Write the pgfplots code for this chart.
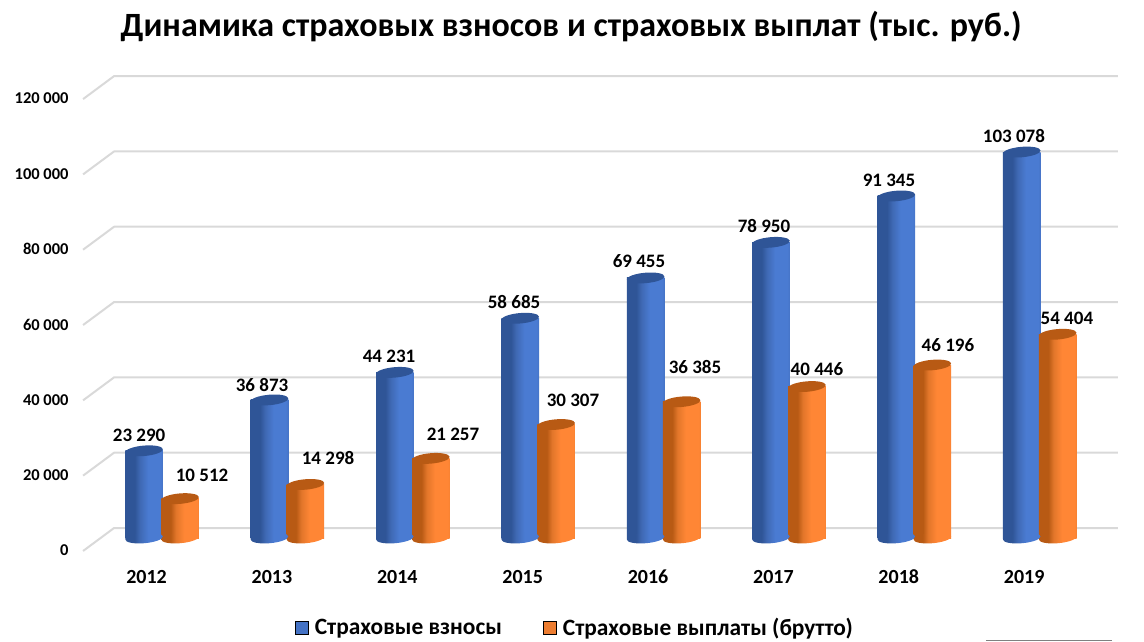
\documentclass[border=0pt]{standalone}
\usepackage{fontspec}
\setmainfont{Carlito}
\usepackage{pgfplots}
\usepackage{pgfplotstable}
\pgfplotsset{compat=1.18}
\definecolor{gridc}{HTML}{D9D9D9}
\definecolor{bl}{HTML}{4472C4}
\definecolor{or}{HTML}{ED7D31}
\definecolor{HTML2F5597}{HTML}{2F5597}
\definecolor{HTML3F69B4}{HTML}{3F69B4}
\definecolor{HTML4A7BD2}{HTML}{4A7BD2}
\definecolor{HTML4472C4}{HTML}{4472C4}
\definecolor{HTML264478}{HTML}{264478}
\pgfdeclarehorizontalshading{blueCyl}{100bp}{color(0bp)=(HTML2F5597);color(25bp)=(HTML2F5597);color(32bp)=(HTML3F69B4);color(43bp)=(HTML4A7BD2);color(59bp)=(HTML4A7BD2);color(68bp)=(HTML3F69B4);color(75bp)=(HTML264478)}
\pgfdeclareplotmark{blueEll}{\pgfpathellipse{\pgfpointorigin}{\pgfqpoint{18.8pt}{1.6pt}}{\pgfqpoint{-0.4pt}{5.2pt}}\pgfshadepath{blueCyl}{0}\pgfusepath{discard}}
\definecolor{HTMLB85A14}{HTML}{B85A14}
\definecolor{HTMLE2762A}{HTML}{E2762A}
\definecolor{HTMLFF8635}{HTML}{FF8635}
\definecolor{HTMLED7D31}{HTML}{ED7D31}
\definecolor{HTML9C4A10}{HTML}{9C4A10}
\pgfdeclarehorizontalshading{orangeCyl}{100bp}{color(0bp)=(HTMLB85A14);color(25bp)=(HTMLB85A14);color(32bp)=(HTMLE2762A);color(43bp)=(HTMLFF8635);color(60bp)=(HTMLFF8635);color(68bp)=(HTMLE2762A);color(75bp)=(HTML9C4A10)}
\pgfdeclareplotmark{orangeEll}{\pgfpathellipse{\pgfpointorigin}{\pgfqpoint{18.8pt}{1.6pt}}{\pgfqpoint{-0.4pt}{5.2pt}}\pgfshadepath{orangeCyl}{0}\pgfusepath{discard}}
\pgfdeclareplotmark{blueTop}{\pgfpathellipse{\pgfpointorigin}{\pgfqpoint{18.8pt}{1.6pt}}{\pgfqpoint{-0.4pt}{5.2pt}}\pgfsetfillcolor{HTML2F5597}\pgfusepath{fill}}
\pgfdeclareplotmark{orangeTop}{\pgfpathellipse{\pgfpointorigin}{\pgfqpoint{18.8pt}{1.6pt}}{\pgfqpoint{-0.4pt}{5.2pt}}\pgfsetfillcolor{HTMLB85A14}\pgfusepath{fill}}
\pgfplotstableread[col sep=comma]{
year,v,dx,dy,label
2012,23290,-5.0,15.8,23 290
2013,36873,-7.4,14.9,36 873
2014,44231,-5.8,16.4,44 231
2015,58685,-6.2,16.2,58 685
2016,69455,-6.6,16.9,69 455
2017,78950,-7.0,16.3,78 950
2018,91345,-7.4,15.9,91 345
2019,103078,-7.8,16.0,103 078
}\vznosy
\pgfplotstableread[col sep=comma]{
year,v,dx,dy,label
2012,10512,22.0,23.6,10 512
2013,14298,22.6,26.5,14 298
2014,21257,22.2,24.4,21 257
2015,30307,16.8,24.5,30 307
2016,36385,13.4,34.7,36 385
2017,40446,10.0,17.5,40 446
2018,46196,15.6,20.0,46 196
2019,54404,9.2,16.3,54 404
}\vyplaty
\begin{document}
\begin{tikzpicture}[x=1pt,y=1pt]
% back wall: gridlines, stubs and value labels
\begin{axis}[
  at={(0pt,0pt)},anchor=south west,
  scale only axis,width=1144pt,height=641pt,
  xmin=0,xmax=1144,ymin=-30000,ymax=140183,
  axis line style={draw=none},
  xtick=\empty,
  scaled y ticks=false,
  ytick={0,20000,40000,60000,80000,100000,120000},
  yticklabels={0,20 000,40 000,60 000,80 000,100 000,120 000},
  major tick length=0pt,
  yticklabel style={anchor=east,xshift=72pt,yshift=-22.5pt,font=\fontsize{16.5}{16.5}\selectfont\bfseries},
  clip=false,
  unbounded coords=jump,
]
\addplot[gridc,line width=2pt,line join=round] table {
83 -6100
114 0
1118 0
nan nan
83 13900
114 20000
1118 20000
nan nan
83 33900
114 40000
1118 40000
nan nan
83 53900
114 60000
1118 60000
nan nan
83 73900
114 80000
1118 80000
nan nan
83 93900
114 100000
1118 100000
nan nan
83 113900
114 120000
1118 120000
};
\addplot[color=black!50,line width=1pt] table {
986 -29880
1112 -29880
};
\end{axis}
% cylinders
\begin{axis}[
  at={(0pt,0pt)},anchor=south west,
  scale only axis,width=1144pt,height=641pt,
  xmin=2010.7081,xmax=2019.8309,ymin=-27503,ymax=143658,
  axis line style={draw=none},
  ytick=\empty,
  xtick={2012,...,2019},
  xticklabels={2012,2013,2014,2015,2016,2017,2018,2019},
  major tick length=0pt,
  xticklabel style={anchor=center,xshift=-15.5pt,yshift=64pt,font=\fontsize{20}{20}\selectfont\bfseries},
  clip=false,
  title={\fontsize{34}{34}\selectfont\bfseries Динамика страховых взносов и страховых выплат (тыс. руб.)},
  title style={at={(0.4992,0.95)},anchor=center},
  legend style={at={(0.5025,0.0205)},anchor=center,draw=none,fill=none,legend columns=2,
    font=\fontsize{23.4}{23.4}\selectfont\bfseries,
    /tikz/every even column/.append style={column sep=39pt},
    /tikz/every odd column/.append style={column sep=5pt}},
  legend cell align=left,
]
\addlegendimage{only marks,mark=square*,mark size=6.5pt,mark options={fill=bl,draw=none}}
\addlegendentry{Страховые взносы}
\addlegendimage{only marks,mark=square*,mark size=6.5pt,mark options={fill=or,draw=none}}
\addlegendentry{Страховые выплаты (брутто)}
% blue
\addplot[forget plot,only marks,mark=blueEll] table[x expr=\thisrow{year}-0.1435,y expr=0] {\vznosy};
\pgfplotsinvokeforeach{2011,...,2018}{
\addplot[forget plot,ybar,bar width=37.6pt,bar shift=0pt,draw=none,shade,shading=blueCyl,restrict x to domain=#1.6:#1.9] table[x expr=\thisrow{year}-0.1435,y=v] {\vznosy};
}
\addplot[forget plot,only marks,mark=blueTop] table[x expr=\thisrow{year}-0.1435,y=v] {\vznosy};
% orange
\addplot[forget plot,only marks,mark=orangeEll] table[x expr=\thisrow{year}+0.1435,y expr=0] {\vyplaty};
\pgfplotsinvokeforeach{2012,...,2019}{
\addplot[forget plot,ybar,bar width=37.6pt,bar shift=0pt,draw=none,shade,shading=orangeCyl,restrict x to domain=#1.0:#1.4] table[x expr=\thisrow{year}+0.1435,y=v] {\vyplaty};
}
\addplot[forget plot,only marks,mark=orangeTop] table[x expr=\thisrow{year}+0.1435,y=v] {\vyplaty};
% data labels
\addplot[forget plot,only marks,mark=none,point meta=explicit symbolic,
  visualization depends on={\thisrow{dx}\as\dxv},
  visualization depends on={\thisrow{dy}\as\dyv},
  nodes near coords,
  nodes near coords style={anchor=center,inner sep=0pt,xshift=\dxv*1pt,yshift=\dyv*1pt,text=black,font=\fontsize{19}{19}\selectfont\bfseries}]
  table[x expr=\thisrow{year}-0.1435,y=v,meta=label] {\vznosy};
\addplot[forget plot,only marks,mark=none,point meta=explicit symbolic,
  visualization depends on={\thisrow{dx}\as\dxv},
  visualization depends on={\thisrow{dy}\as\dyv},
  nodes near coords,
  nodes near coords style={anchor=center,inner sep=0pt,xshift=\dxv*1pt,yshift=\dyv*1pt,text=black,font=\fontsize{19}{19}\selectfont\bfseries}]
  table[x expr=\thisrow{year}+0.1435,y=v,meta=label] {\vyplaty};
\end{axis}
\end{tikzpicture}
\end{document}
